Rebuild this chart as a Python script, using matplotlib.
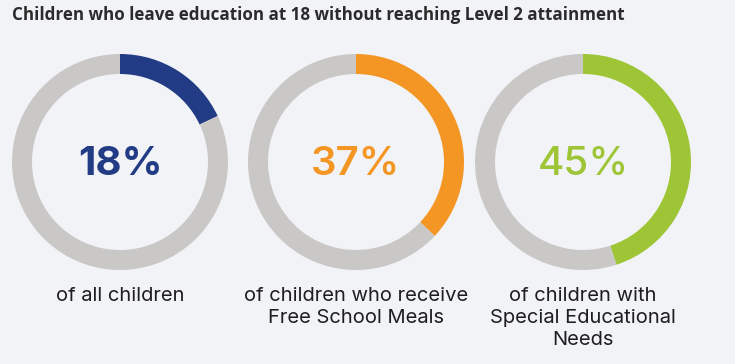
import matplotlib.pyplot as plt

# Data
values = [18, 37, 45]
labels = ["of all children",
          "of children who receive\nFree School Meals",
          "of children with\nSpecial Educational\nNeeds"]
colors = ["#213b85", "#f39623", "#9dc535"]
weights = ["bold", "semibold", "medium"]
rest_color = "#cac8c6"
bg = "#f2f3f7"
title = "Children who leave education at 18 without reaching Level 2 attainment"

W, H = 735, 364
fig = plt.figure(figsize=(W / 100, H / 100), dpi=100, facecolor=bg)

centers_x = [120, 356, 583]
cy = 162
r = 108

for cx, v, lab, col, wt in zip(centers_x, values, labels, colors, weights):
    ax = fig.add_axes([(cx - r) / W, (H - cy - r) / H, 2 * r / W, 2 * r / H])
    ax.pie([v, 100 - v], colors=[col, rest_color], startangle=90,
           counterclock=False, radius=1,
           wedgeprops=dict(width=20 / r, linewidth=0))
    ax.set_xlim(-1, 1)
    ax.set_ylim(-1, 1)
    ax.set_aspect("equal")
    ax.axis("off")
    ax.text(0, -0.02, f"{v}%", ha="center", va="center", fontsize=29,
            color=col, fontfamily="Inter", fontweight=wt)
    fig.text(cx / W, 1 - 287 / H, lab, ha="center", va="top", fontsize=14.5,
             color="#1e1e1e", fontfamily="Inter", linespacing=1.3)

fig.text(12 / W, 1 - 15 / H, title, ha="left", va="center", fontsize=12.25,
         fontweight="bold", color="#2b2b2b", fontfamily="Open Sans")

fig.savefig("out.png", dpi=100, facecolor=bg)
